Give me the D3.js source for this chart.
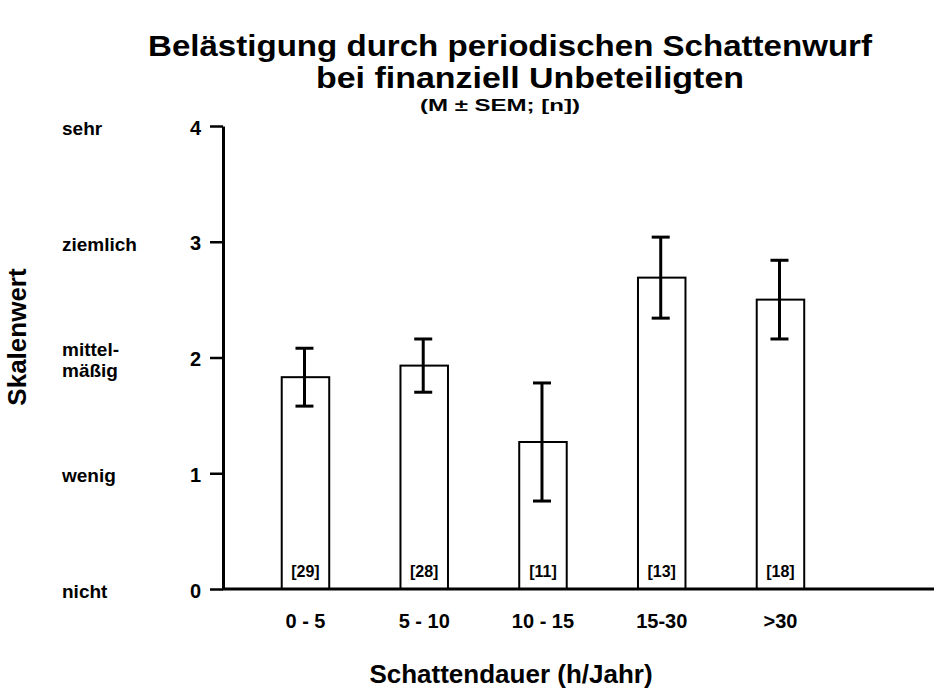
<!DOCTYPE html>
<html>
<head>
<meta charset="utf-8">
<script src="https://cdn.jsdelivr.net/npm/d3@7"></script>
<style>
  body { margin: 0; background: #fff; }
  text { font-family: "Liberation Sans", Arial, sans-serif; font-weight: bold; fill: #000; }
</style>
</head>
<body>
<svg id="chart" width="936" height="693"></svg>
<script>
const categories = ["0 - 5", "5 - 10", "10 - 15", "15-30", ">30"];
const means = [1.83, 1.93, 1.27, 2.69, 2.50];
const sems = [0.25, 0.23, 0.51, 0.35, 0.34];
const nValues = [29, 28, 11, 13, 18];
const yTicks = [0, 1, 2, 3, 4];
const yVerbal = [["nicht"], ["wenig"], ["mittel-", "mäßig"], ["ziemlich"], ["sehr"]];

const svg = d3.select("#chart");
const y = d3.scaleLinear().domain([0, 4]).range([589, 126]);
const x = d3.scaleBand().domain(categories).range([246.1, 839.85])
  .paddingInner(0.6).paddingOuter(0.3);

// Title
svg.append("text").attr("x", 510).attr("y", 56).attr("text-anchor", "middle")
  .attr("textLength", 724).attr("lengthAdjust", "spacingAndGlyphs")
  .style("font-size", "29px").text("Belästigung durch periodischen Schattenwurf");
svg.append("text").attr("x", 530).attr("y", 88).attr("text-anchor", "middle")
  .attr("textLength", 428).attr("lengthAdjust", "spacingAndGlyphs")
  .style("font-size", "29px").text("bei finanziell Unbeteiligten");
svg.append("text").attr("x", 500).attr("y", 111).attr("text-anchor", "middle")
  .attr("textLength", 160).attr("lengthAdjust", "spacingAndGlyphs")
  .style("font-size", "17px").text("(M ± SEM; [n])");

// Y axis
const yAxis = svg.append("g").attr("transform", "translate(223,0)")
  .call(d3.axisLeft(y).tickValues(yTicks).tickFormat(d3.format("d")).tickSize(13).tickSizeOuter(0).tickPadding(9));
yAxis.select(".domain").attr("stroke", "#000").attr("stroke-width", 3);
yAxis.selectAll(".tick line").attr("stroke", "#000").attr("stroke-width", 2.5);
yAxis.selectAll(".tick text").style("font-size", "20px").style("font-family", "'Liberation Sans', Arial, sans-serif").style("font-weight", "bold").attr("dy", "0.4em");

// Verbal labels
const verbal = svg.append("g");
yTicks.forEach((v, i) => {
  const lines = yVerbal[i];
  const base = y(v) + 9 - (lines.length - 1) * 10.75;
  lines.forEach((l, j) => {
    verbal.append("text").attr("x", 62).attr("y", base + j * 21.5)
      .style("font-size", "19px").text(l);
  });
});

// X axis labels
const xAxis = svg.append("g").attr("transform", "translate(0,589)")
  .call(d3.axisBottom(x).tickSize(0).tickPadding(25));
xAxis.select(".domain").remove();
xAxis.selectAll(".tick text").style("font-size", "20px").style("font-family", "'Liberation Sans', Arial, sans-serif").style("font-weight", "bold");

// Bars
svg.append("g").selectAll("rect").data(categories).join("rect")
  .attr("x", d => x(d))
  .attr("y", (d, i) => y(means[i]))
  .attr("width", x.bandwidth())
  .attr("height", (d, i) => y(0) - y(means[i]))
  .attr("fill", "#fff").attr("stroke", "#000").attr("stroke-width", 2);

// Baseline
svg.append("line").attr("x1", 222).attr("x2", 934).attr("y1", y(0)).attr("y2", y(0))
  .attr("stroke", "#000").attr("stroke-width", 3);

// Error bars
const eb = svg.append("g").attr("stroke", "#000").attr("stroke-width", 3);
categories.forEach((c, i) => {
  const cx = x(c) + x.bandwidth() / 2 - 1;
  const hi = y(means[i] + sems[i]), lo = y(means[i] - sems[i]);
  eb.append("line").attr("x1", cx).attr("x2", cx).attr("y1", hi).attr("y2", lo);
  eb.append("line").attr("x1", cx - 9).attr("x2", cx + 9).attr("y1", hi).attr("y2", hi);
  eb.append("line").attr("x1", cx - 9).attr("x2", cx + 9).attr("y1", lo).attr("y2", lo);
});

// n labels
svg.append("g").selectAll("text").data(categories).join("text")
  .attr("x", d => x(d) + x.bandwidth() / 2)
  .attr("y", 577)
  .attr("text-anchor", "middle")
  .style("font-size", "16px")
  .text((d, i) => "[" + nValues[i] + "]");

// Axis titles
svg.append("text").attr("x", 511).attr("y", 683).attr("text-anchor", "middle")
  .style("font-size", "26px").text("Schattendauer (h/Jahr)");
svg.append("text").attr("transform", "translate(26,337) rotate(-90)").attr("text-anchor", "middle")
  .style("font-size", "26px").text("Skalenwert");
</script>
</body>
</html>
